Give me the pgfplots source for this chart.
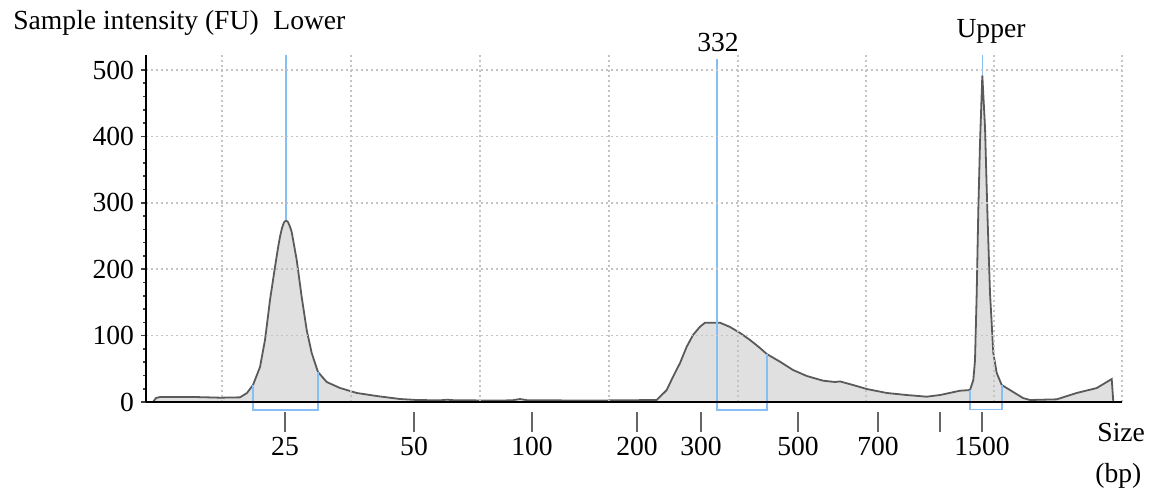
\documentclass[border=0pt]{standalone}
\usepackage{fontspec}
\setmainfont{Liberation Serif}
\usepackage{pgfplots}
\pgfplotsset{compat=1.18}
\definecolor{peakfill}{RGB}{224,224,224}
\definecolor{peakline}{RGB}{90,90,90}
\definecolor{marker}{RGB}{135,190,245}
\definecolor{gridgray}{RGB}{195,195,195}
\newcommand{\lbl}{\fontsize{13.8}{16}\selectfont}
\begin{document}
\begin{tikzpicture}
\begin{axis}[
    scale only axis,
    width=488pt, height=173.5pt,
    xmin=146, xmax=1122,
    ymin=0, ymax=522.6,
    axis lines*=left,
    axis line style={line width=1pt, black},
    axis on top,
    clip=false,
    /pgf/number format/assume math mode=true,
    tick label style={font=\lbl},
    % vertical grid only, no marks
    xtick={222,351,480,609,738,866,994,1122},
    xticklabels={},
    xtick style={draw=none},
    xmajorgrids,
    ytick={0,100,200,300,400,500},
    minor y tick num=4,
    ymajorgrids,
    ytick style={draw=black!75, line width=0.8pt},
    tick align=outside,
    major tick length=2.5pt,
    minor tick length=1.5pt,
    grid style={gridgray, line width=0.8pt, dash pattern=on 1pt off 1.5pt},
    extra x ticks={285,414,532,637,701,798,878,940,982},
    extra x tick labels={25,50,100,200,300,500,700,{},1500},
    extra x tick style={
        grid=none,
        major tick length=10pt,
        xtick style={draw=black!60, line width=1pt, yshift=-5pt},
        xticklabel style={yshift=-4pt},
    },
]
% electropherogram trace
\addplot[fill=peakfill, draw=peakline, line width=0.9pt, mark=none] coordinates {
(153,0) (156,6) (160,7.5) (195,7.5) (220,6.5) (240,7) (247,13.6) (253,25.6)
(260,52.7) (265,93.4) (270,153.6) (275,203.3) (278,232) (280,249)
(282,262) (284,270.5) (286,273.5) (288,271) (290,264) (291.7,256)
(296.7,213.9) (301.7,158.1)
(306.7,108.4) (311.7,73.8) (318,45.2) (326.7,30.1) (340,21.1) (356.7,13.6)
(376.7,9.0) (400,4.5) (417,3) (440,2.5) (447,3.5) (455,2.5) (500,2.3)
(512,2.5) (520,4.5) (528,2.5) (600,2.3) (656.7,3) (660,8) (666.7,18)
(673,38) (680,58.7) (686.7,83.3) (693,100.9) (700,113.4) (705,119.4)
(720,119.4) (730,113) (740,104) (750,93.4) (760,81.3) (766.7,72.3)
(780,60.7) (793,48.2) (806.7,39.2) (823,32.1) (835,30.1) (840,31)
(853,25.6) (866.7,19.6) (886.7,13.6) (906.7,10.5) (926.7,8) (940,10.5)
(960,17) (970,18) (973.3,33) (975,63) (976.7,164) (978.3,289) (980,390)
(982.3,492) (985,414) (987.3,289) (990,164) (993.3,74) (996.7,43.7)
(1001.7,25.6) (1010,18) (1023,6) (1030,3) (1056.7,4) (1076.7,13.6)
(1096.7,21) (1111.7,34.6) (1113.3,0)
} \closedcycle;
% peak markers and integration brackets
\addplot[marker, line width=0.9pt, mark=none] coordinates {(285.7,273.5) (285.7,522.6)};
\addplot[marker, line width=0.8pt, mark=none] coordinates {(253,25.6) (253,-12) (318,-12) (318,45.2)};
\addplot[marker, line width=0.8pt, mark=none] coordinates {(717,516.6) (717,-12) (767,-12) (767,72.3)};
\addplot[marker, line width=0.8pt, mark=none] coordinates {(982.5,492) (982.5,522.6)};
\addplot[marker, line width=0.8pt, mark=none] coordinates {(970,18) (970,-11) (1002,-11) (1002,25.6)};
% labels
\node[anchor=base west, font=\lbl, inner sep=0pt] at (axis cs:13,561.7) {Sample intensity (FU)};
\node[anchor=base west, font=\lbl, inner sep=0pt] at (axis cs:273,561.7) {Lower};
\node[anchor=base, font=\lbl, inner sep=0pt] at (axis cs:718,527.1) {332};
\node[anchor=base, font=\lbl, inner sep=0pt] at (axis cs:991,548.2) {Upper};
\node[anchor=base west, font=\lbl, inner sep=0pt] at (axis cs:1097,-60.2) {Size};
\node[anchor=base west, font=\lbl, inner sep=0pt] at (axis cs:1095,-120.5) {(bp)};
\path (axis cs:0,605.4) rectangle (axis cs:1149,-129.5);
\end{axis}
\end{tikzpicture}
\end{document}
